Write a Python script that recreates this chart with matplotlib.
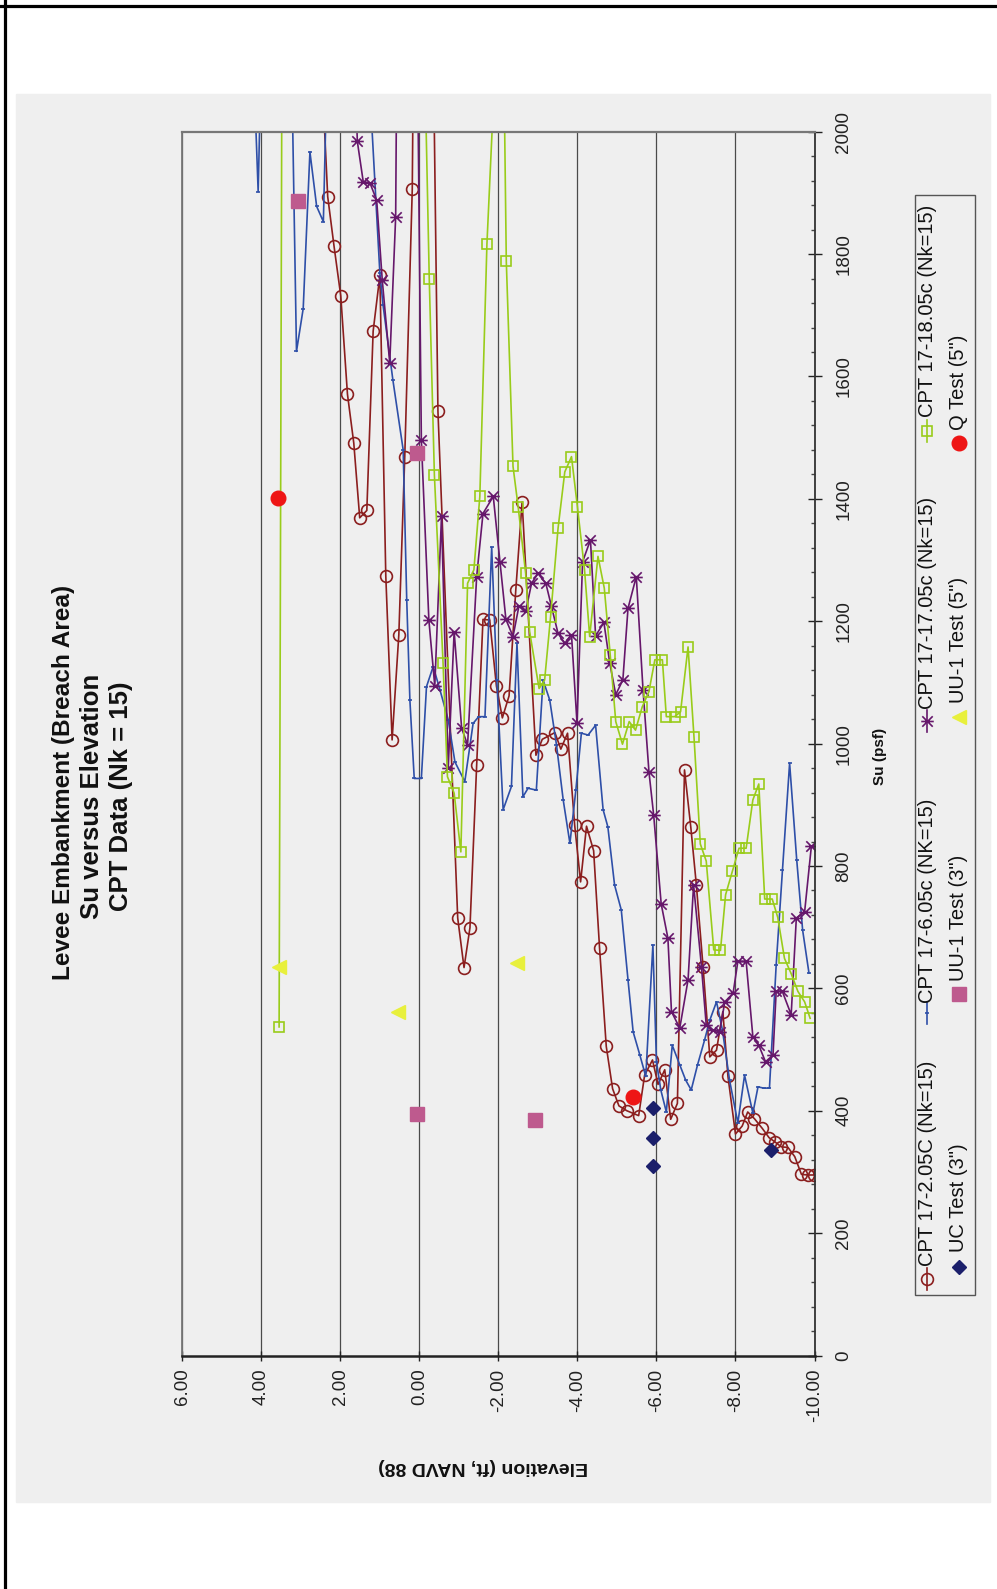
import matplotlib
matplotlib.use('Agg')
import matplotlib.pyplot as plt
from matplotlib.patches import Rectangle
from matplotlib.path import Path
from matplotlib.ticker import MultipleLocator

plt.rcParams['font.family'] = ['Liberation Sans', 'DejaVu Sans']

# ---- data (elevation ft, Su psf); values above 2000 run off the chart ----
cpt2_elev = [2.47, 2.32, 2.16, 1.99, 1.82, 1.66, 1.51, 1.33, 1.17, 1.00, 0.85, 0.69, 0.52, 0.37,
             0.18, 0.09, -0.26, -0.47, -0.97, -1.13, -1.28, -1.45, -1.61, -1.78, -1.95, -2.10,
             -2.27, -2.44, -2.60, -2.95, -3.11, -3.43, -3.58, -3.75, -3.93, -4.08, -4.23, -4.41,
             -4.56, -4.73, -4.89, -5.05, -5.25, -5.55, -5.70, -5.90, -6.04, -6.21, -6.36, -6.53,
             -6.71, -6.87, -7.01, -7.18, -7.35, -7.52, -7.68, -7.81, -8.00, -8.17, -8.31, -8.48,
             -8.68, -8.85, -9.00, -9.16, -9.33, -9.50, -9.67, -9.83, -9.98, -10.18]
cpt2_su = [2100, 1894, 1813, 1732, 1571, 1491, 1369, 1381, 1674, 1765, 1274, 1006, 1178, 1469,
           1906, 2600, 2600, 1543, 715, 634, 699, 965, 1203, 1202, 1094, 1042,
           1078, 1251, 1395, 981, 1007, 1018, 991, 1017, 867, 774, 865, 825,
           666, 505, 436, 408, 400, 392, 458, 483, 443, 467, 386, 412,
           957, 863, 769, 635, 488, 499, 562, 456, 362, 375, 398, 387,
           371, 356, 349, 341, 340, 325, 296, 295, 295, 369]

cpt6_elev = [4.19, 4.08, 4.01, 3.66, 3.23, 3.11, 2.94, 2.77, 2.60, 2.43, 2.32, 1.76, 1.28, 1.00,
             0.92, 0.67, 0.41, 0.32, 0.24, 0.13, -0.05, -0.18, -0.35, -0.52, -0.73, -0.90, -1.15,
             -1.36, -1.50, -1.66, -1.83, -1.96, -2.12, -2.33, -2.47, -2.62, -2.75, -2.96, -3.13,
             -3.30, -3.47, -3.64, -3.81, -3.96, -4.10, -4.27, -4.46, -4.65, -4.77, -4.94, -5.11,
             -5.28, -5.41, -5.58, -5.73, -5.91, -6.00, -6.11, -6.25, -6.40, -6.59, -6.74, -6.88,
             -7.04, -7.22, -7.35, -7.52, -7.67, -7.85, -8.06, -8.23, -8.44, -8.57, -8.71, -8.86,
             -9.03, -9.19, -9.37, -9.55, -9.70, -9.86]
cpt6_su = [2100, 1902, 2100, 2300, 2100, 1641, 1711, 1967, 1878, 1853, 2150, 2400, 2100, 1769,
           1717, 1594, 1480, 1235, 1071, 943, 943, 1093, 1126, 1088, 1039, 970, 938,
           1033, 1044, 1044, 1321, 1104, 892, 930, 1164, 913, 927, 924, 1104,
           1071, 998, 908, 837, 924, 1017, 1014, 1030, 892, 864, 769, 728,
           614, 529, 491, 456, 671, 480, 434, 398, 507, 475, 450, 434,
           475, 516, 548, 578, 532, 450, 380, 458, 396, 439, 437, 437,
           638, 794, 968, 810, 695, 625]

cpt17_elev = [1.63, 1.57, 1.42, 1.25, 1.08, 0.94, 0.75, 0.60, 0.52, 0.29, 0.06, -0.05, -0.24,
              -0.39, -0.56, -0.73, -0.88, -1.07, -1.22, -1.45, -1.61, -1.87, -2.04, -2.19, -2.37,
              -2.52, -2.69, -2.84, -3.00, -3.20, -3.34, -3.51, -3.68, -3.85, -3.99, -4.13, -4.33,
              -4.46, -4.67, -4.82, -4.97, -5.15, -5.28, -5.49, -5.66, -5.81, -5.93, -6.12, -6.29,
              -6.38, -6.59, -6.80, -6.94, -7.14, -7.26, -7.42, -7.60, -7.73, -7.94, -8.06, -8.27,
              -8.44, -8.59, -8.76, -8.95, -9.03, -9.18, -9.41, -9.54, -9.75, -9.92]
cpt17_su = [2100, 1984, 1918, 1916, 1888, 1758, 1622, 1861, 2600, 2600, 2200, 1496, 1202,
            1094, 1372, 960, 1183, 1025, 998, 1273, 1376, 1404, 1297, 1203, 1175,
            1225, 1216, 1262, 1278, 1262, 1225, 1180, 1164, 1178, 1033, 1297, 1333,
            1176, 1198, 1131, 1080, 1104, 1221, 1273, 1088, 954, 883, 738, 682,
            562, 535, 614, 769, 635, 540, 532, 529, 578, 592, 644, 644,
            521, 507, 480, 491, 595, 596, 557, 715, 725, 832]

cpt18_elev = [3.55, 3.48, 1.76, -0.14, -0.25, -0.38, -0.60, -0.71, -0.88, -1.05, -1.22, -1.38,
              -1.53, -1.71, -1.91, -2.04, -2.14, -2.20, -2.37, -2.50, -2.69, -2.79, -3.03, -3.17,
              -3.32, -3.51, -3.68, -3.85, -4.00, -4.18, -4.31, -4.52, -4.68, -4.83, -4.97, -5.14,
              -5.31, -5.47, -5.64, -5.81, -5.96, -6.15, -6.25, -6.46, -6.61, -6.80, -6.95, -7.11,
              -7.26, -7.45, -7.62, -7.75, -7.92, -8.09, -8.27, -8.44, -8.59, -8.74, -8.93, -9.07,
              -9.24, -9.41, -9.58, -9.75, -9.89]
cpt18_su = [537, 2100, 2500, 2100, 1760, 1439, 1131, 946, 919, 823, 1262, 1284,
            1404, 1817, 2100, 2300, 2100, 1788, 1453, 1387, 1278, 1183, 1090, 1104,
            1207, 1352, 1444, 1469, 1387, 1284, 1175, 1306, 1254, 1145, 1036, 999,
            1036, 1022, 1060, 1085, 1137, 1137, 1044, 1044, 1052, 1158, 1011, 836,
            808, 663, 662, 753, 791, 829, 829, 908, 934, 746, 746, 716,
            649, 624, 595, 578, 551]

uc_elev = [-5.91, -5.91, -5.91, -8.91]
uc_su = [404, 356, 309, 336]
uu3_elev = [3.07, 0.07, 0.07, -2.92]
uu3_su = [1886, 1475, 394, 385]
uu5_elev = [3.55, 0.55, -2.46]
uu5_su = [635, 562, 641]
q_elev = [3.57, -5.41]
q_su = [1401, 423]

elev_ticks = [6, 4, 2, 0, -2, -4, -6, -8, -10]
su_ticks = list(range(0, 2001, 200))

# asterisk marker (x with a bar)
star = Path([(-1, -1), (1, 1), (-1, 1), (1, -1), (-1.2, 0), (1.2, 0)],
            [Path.MOVETO, Path.LINETO, Path.MOVETO, Path.LINETO, Path.MOVETO, Path.LINETO])

styles = {
    'cpt2': dict(color='#8B1E1E', marker='o', ms=8.5, mfc='none', mew=1.2, lw=1.2),
    'cpt6': dict(color='#2E4FA8', marker='_', ms=3, mew=1.2, lw=1.2),
    'cpt17': dict(color='#66176B', marker=star, ms=9, mfc='none', mew=1.2, lw=1.2),
    'cpt18': dict(color='#99CC1A', marker='s', ms=7, mfc='none', mew=1.2, lw=1.2),
    'uc': dict(color='#1B1F6B', marker='D', ms=7, lw=0),
    'uu3': dict(color='#BE5A8E', marker='s', ms=10, lw=0),
    'uu5': dict(color='#E8F03C', marker='<', ms=10, lw=0),
    'q': dict(color='#EE1515', marker='o', ms=10.5, lw=0),
}

W, H = 997, 1589
fig = plt.figure(figsize=(W / 100, H / 100), dpi=100)

# background layer in pixel coordinates
bg = fig.add_axes([0, 0, 1, 1])
bg.set_xlim(0, W)
bg.set_ylim(H, 0)
bg.axis('off')
bg.add_patch(Rectangle((16, 94), 974, 1408, color='#EFEFEF', zorder=0))
bg.plot([4.5, 4.5], [0, H], color='black', lw=2.3)
bg.plot([0, W], [6, 6], color='black', lw=2.3)

# main chart (drawn turned on its side: elevation across, Su upward)
x0, x1, ytop, ybot = 182.3, 814.5, 131.7, 1355.5
ax = fig.add_axes([x0 / W, (H - ybot) / H, (x1 - x0) / W, (ybot - ytop) / H])
ax.set_facecolor('#EFEFEF')

ax.plot(cpt2_elev, cpt2_su, **styles['cpt2'])
ax.plot(cpt6_elev, cpt6_su, **styles['cpt6'])
ax.plot(cpt17_elev, cpt17_su, **styles['cpt17'])
ax.plot(cpt18_elev, cpt18_su, **styles['cpt18'])
ax.plot(uc_elev, uc_su, **styles['uc'])
ax.plot(uu3_elev, uu3_su, **styles['uu3'])
ax.plot(uu5_elev, uu5_su, **styles['uu5'])
ax.plot(q_elev, q_su, **styles['q'])

ax.set_xlim(6, -10)
ax.set_ylim(0, 2000)
ax.set_xticks(elev_ticks)
ax.set_xticklabels(['%.2f' % v for v in elev_ticks], rotation=90)
ax.grid(axis='x', color='#4a4a4a', lw=0.9)
ax.tick_params(axis='x', direction='inout', length=7, width=1, color='#222',
               labelsize=13.5, labelcolor='#222', pad=6)

ax.yaxis.tick_right()
ax.set_yticks(su_ticks)
ax.set_yticklabels([str(v) for v in su_ticks], rotation=90, va='center')
ax.yaxis.set_minor_locator(MultipleLocator(40))
ax.tick_params(axis='y', which='major', direction='inout', length=10, width=1, color='#222',
               labelsize=13.5, labelcolor='#222', pad=10)
ax.tick_params(axis='y', which='minor', direction='in', length=3, width=1, color='#444')

ax.spines['left'].set_color('#777777')
ax.spines['left'].set_linewidth(1.3)
ax.spines['top'].set_color('#777777')
ax.spines['top'].set_linewidth(1.6)
ax.spines['right'].set_color('#333333')
ax.spines['right'].set_linewidth(1.3)
ax.spines['bottom'].set_color('#222222')
ax.spines['bottom'].set_linewidth(1.8)

# titles and axis labels
bg.text(63.3, 782.5, 'Levee Embankment (Breach Area)', rotation=90, ha='center', va='center',
        fontsize=17.6, fontweight='bold', color='#111')
bg.text(91.7, 796.7, 'Su versus Elevation', rotation=90, ha='center', va='center',
        fontsize=18.5, fontweight='bold', color='#111')
bg.text(120.7, 796.7, 'CPT Data (Nk = 15)', rotation=90, ha='center', va='center',
        fontsize=18.5, fontweight='bold', color='#111')
bg.text(483, 1467, 'Elevation (ft, NAVD 88)', rotation=180, ha='center', va='center',
        fontsize=14, fontweight='bold', color='#111')
bg.text(880, 756, 'Su (psf)', rotation=90, ha='center', va='center',
        fontsize=11, fontweight='bold', color='#111')
bg.text(796, 428, '(Note:  Red data points indicate stress/strain curves available)',
        rotation=90, ha='center', va='center', fontsize=14.5, color='#E8203F')

# legend
bg.add_patch(Rectangle((915, 194.5), 60, 1100.5, fill=False, edgecolor='#555555', lw=1))
legend_rows = [
    (927, 1279, 1266.5, 'cpt2', 'CPT 17-2.05C (Nk=15)', True),
    (927, 1013, 1003, 'cpt6', 'CPT 17-6.05c (NK=15)', True),
    (927, 721, 709, 'cpt17', 'CPT 17-17.05c (Nk=15)', True),
    (927, 430.6, 417.4, 'cpt18', 'CPT 17-18.05c (Nk=15)', True),
    (958.5, 1266.5, 1252, 'uc', 'UC Test (3")', False),
    (958.5, 994, 981, 'uu3', 'UU-1 Test (3")', False),
    (958.5, 717, 703, 'uu5', 'UU-1 Test (5")', False),
    (958.5, 442.8, 429.6, 'q', 'Q Test (5")', False),
]
for lx, my, ty, key, label, with_line in legend_rows:
    st = dict(styles[key])
    if with_line:
        bg.plot([lx, lx], [my + 11, my - 11], color=st['color'], lw=st['lw'])
    st['lw'] = 0
    bg.plot([lx], [my], **st)
    bg.text(lx, ty, label, rotation=90, ha='center', va='bottom', fontsize=14.5, color='#111')

fig.savefig('out.png', dpi=100)
